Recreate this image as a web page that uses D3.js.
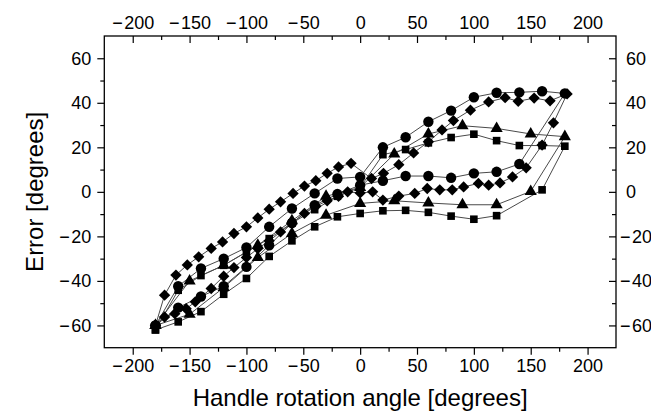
<!DOCTYPE html>
<html>
<head>
<meta charset="utf-8">
<script src="https://cdn.jsdelivr.net/npm/d3@7"></script>
<style>
  body { margin: 0; background: #fff; }
  svg { display: block; font-family: "Liberation Sans", Arial, sans-serif; }
  .tick text { fill: #000; }
</style>
</head>
<body>
<div id="chart"></div>
<script>
// each series is one loop: out along the lower branch, back along the upper one
const circleAngle = [-180, -160, -140, -120, -100, -80, -60, -40, -20, 0, 20, 40, 60, 80, 100, 120, 140, 180,
  160, 140, 120, 100, 80, 60, 40, 20, 0, -20, -40, -60, -80, -100, -120, -140, -160, -180];
const circleError = [-60, -52, -47, -42.4, -33.7, -24, -14, -6, -1, 3, 5, 7.1, 7.1, 6.3, 8.3, 9, 12.5, 44.2,
  45.2, 44.7, 44.5, 42.5, 36.5, 31.5, 24.5, 20, 6.7, 6, -0.7, -7.5, -15.7, -25, -30, -34.4, -42.4, -60];

const squareAngle = [-180, -160, -140, -120, -100, -80, -60, -40, -20, 0, 20, 40, 60, 80, 100, 120, 160, 180,
  160, 140, 120, 100, 80, 60, 40, 20, 0, -20, -40, -60, -80, -100, -120, -140, -160, -180];
const squareError = [-62, -58.4, -53.8, -46, -38.9, -29, -22, -15.7, -11.2, -9.7, -8.5, -8.3, -9.2, -10.9, -12.3, -10.7, 0.9, 20.5,
  20.8, 20.8, 23, 25.9, 24.4, 22, 19, 16.7, 2, -2, -8, -14, -21, -27, -33, -37.6, -44.2, -62];

const triangleAngle = [-180, -150, -120, -90, -60, -30, 0, 30, 60, 90, 120, 150, 180,
  150, 120, 90, 60, 30, 0, -30, -60, -90, -120, -150, -180];
const triangleError = [-60, -55, -43, -29.5, -18.7, -10.5, -5.2, -4, -5, -5.8, -5.8, 0.2, 24.8,
  26, 28.5, 29.7, 26, 17, 2, -2, -13, -24, -33, -40, -60];

const diamondAngle = [-180, -172, -163, -153, -145, -131, -120, -111, -100, -90, -80, -70, -60, -49, -39, -29, -19, -11, 0, 11, 20, 34,
  48, 59, 70, 81, 91, 104, 113, 123, 134, 146, 160, 170, 182,
  167, 153, 139, 127.5, 113, 97, 82, 72, 60, 47, 34, 20.5, 10, -8, -19, -29, -39, -49, -59, -70, -80, -90,
  -100, -111, -121, -131, -142, -152, -162, -172, -180];
const diamondError = [-60, -56.2, -54.7, -52.5, -49.4, -43.4, -37.9, -34, -29.5, -25.5, -22, -18, -14, -9.7, -6.5, -4, -2, 0, -0.5, 0, -3.7, -1.9,
  -0.7, 1.5, 0.9, 0.9, 2.2, 3.8, 3, 4, 6.7, 10.8, 21, 31, 44,
  40.9, 42.1, 40.7, 42.3, 40.4, 36.7, 32, 27.8, 22.5, 17.5, 12.2, 8.3, 6, 12.8, 11.2, 8.3, 5, 2.6, -0.7, -4.5, -7.8, -11.7,
  -15.7, -18.7, -22.5, -25.4, -29.2, -32.8, -37.4, -46.4, -60];

const xMajorTicks = [-200, -150, -100, -50, 0, 50, 100, 150, 200];
const xMinorTicks = [-175, -125, -75, -25, 25, 75, 125, 175];
const yMajorTicks = [-60, -40, -20, 0, 20, 40, 60];
const yMinorTicks = [-50, -30, -10, 10, 30, 50];

const width = 651, height = 415;

const svg = d3.select("#chart").append("svg")
  .attr("width", width)
  .attr("height", height)
  .attr("viewBox", [0, 0, width, height]);

svg.append("rect").attr("width", width).attr("height", height).attr("fill", "#fff");

const x = d3.scaleLinear().domain([-225, 225]).range([104.3, 616]);
const y = d3.scaleLinear().domain([-70, 70]).range([347.7, 36]);

const fmt = d => d < 0 ? "\u2212\u200A" + Math.abs(d) : String(d);

// axes, left/bottom ticks outward, top/right ticks inward
function styleAxis(g) {
  g.select(".domain").remove();
  g.selectAll(".tick line").attr("stroke", "#000").attr("stroke-width", 1.2);
  g.selectAll(".tick text").attr("font-size", 18);
}

svg.append("g")
  .attr("transform", `translate(0,${y.range()[0]})`)
  .call(d3.axisBottom(x).tickValues(xMajorTicks).tickSize(7).tickPadding(5).tickFormat(fmt))
  .call(styleAxis);
svg.append("g")
  .attr("transform", `translate(0,${y.range()[0]})`)
  .call(d3.axisBottom(x).tickValues(xMinorTicks).tickSize(4).tickFormat(""))
  .call(styleAxis);

svg.append("g")
  .attr("transform", `translate(0,${y.range()[1]})`)
  .call(d3.axisTop(x).tickValues(xMajorTicks).tickSize(-7).tickPadding(7).tickFormat(fmt))
  .call(styleAxis);
svg.append("g")
  .attr("transform", `translate(0,${y.range()[1]})`)
  .call(d3.axisTop(x).tickValues(xMinorTicks).tickSize(-4).tickFormat(""))
  .call(styleAxis);

svg.append("g")
  .attr("transform", `translate(${x.range()[0]},0)`)
  .call(d3.axisLeft(y).tickValues(yMajorTicks).tickSize(7).tickPadding(6).tickFormat(fmt))
  .call(styleAxis);
svg.append("g")
  .attr("transform", `translate(${x.range()[0]},0)`)
  .call(d3.axisLeft(y).tickValues(yMinorTicks).tickSize(4).tickFormat(""))
  .call(styleAxis);

const rightAxis = svg.append("g")
  .attr("transform", `translate(${x.range()[1]},0)`)
  .call(d3.axisRight(y).tickValues(yMajorTicks).tickSize(-7).tickPadding(10).tickFormat(fmt))
  .call(styleAxis);
// negative labels on the right start a bit further left
rightAxis.selectAll(".tick text").filter(d => d < 0).attr("x", 4);
svg.append("g")
  .attr("transform", `translate(${x.range()[1]},0)`)
  .call(d3.axisRight(y).tickValues(yMinorTicks).tickSize(-4).tickFormat(""))
  .call(styleAxis);

// frame
svg.append("rect")
  .attr("x", x.range()[0])
  .attr("y", y.range()[1])
  .attr("width", x.range()[1] - x.range()[0])
  .attr("height", y.range()[0] - y.range()[1])
  .attr("fill", "none")
  .attr("stroke", "#000")
  .attr("stroke-width", 1.3);

// axis titles
svg.append("text")
  .attr("x", (x.range()[0] + x.range()[1]) / 2)
  .attr("y", 406)
  .attr("text-anchor", "middle")
  .attr("font-size", 24)
  .text("Handle rotation angle [degrees]");

svg.append("text")
  .attr("transform", `translate(43,${(y.range()[0] + y.range()[1]) / 2}) rotate(-90)`)
  .attr("text-anchor", "middle")
  .attr("font-size", 24)
  .text("Error [degrees]");

const series = [
  { angle: circleAngle, error: circleError, symbol: d3.symbolCircle, size: 85, rotate: 0 },
  { angle: squareAngle, error: squareError, symbol: d3.symbolSquare, size: 58, rotate: 0 },
  { angle: triangleAngle, error: triangleError, symbol: d3.symbolTriangle, size: 64, rotate: 0 },
  { angle: diamondAngle, error: diamondError, symbol: d3.symbolSquare, size: 64, rotate: 45 },
];

const line = d3.line().x(d => x(d[0])).y(d => y(d[1]));

const plot = svg.append("g");

series.forEach(s => {
  const pts = s.angle.map((a, i) => [a, s.error[i]]);
  plot.append("path")
    .attr("d", line(pts))
    .attr("fill", "none")
    .attr("stroke", "#4a4a4a")
    .attr("stroke-width", 1);
});

series.forEach(s => {
  const pts = s.angle.map((a, i) => [a, s.error[i]]);
  plot.selectAll(null)
    .data(pts)
    .join("path")
    .attr("transform", d => `translate(${x(d[0])},${y(d[1])}) rotate(${s.rotate})`)
    .attr("d", d3.symbol().type(s.symbol).size(s.size))
    .attr("fill", "#000");
});
</script>
</body>
</html>
